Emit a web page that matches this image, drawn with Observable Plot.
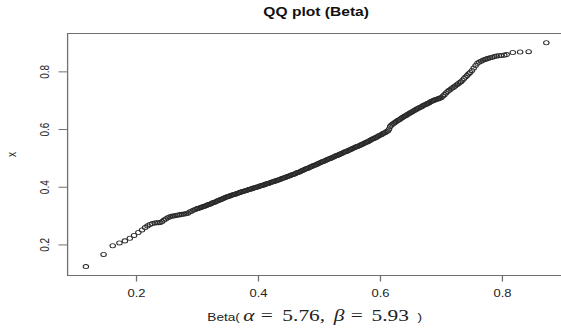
<!DOCTYPE html>
<html><head><meta charset="utf-8">
<script src="https://cdn.jsdelivr.net/npm/d3@7"></script>
<script src="https://cdn.jsdelivr.net/npm/@observablehq/plot@0.6"></script>
<style>html,body{margin:0;padding:0;background:#fff;overflow:hidden;width:561px;height:329px}</style>
</head><body><div id="chart"></div>
<script>
// Theoretical Beta(5.76, 5.93) quantiles (horizontal axis)
const theoretical = [
 0.117,0.146,0.161,0.172,0.181,0.189,0.196,0.203,0.209,0.214,
 0.218,0.222,0.226,0.230,0.233,0.236,0.239,0.242,0.245,0.248,
 0.251,0.254,0.257,0.260,0.263,0.266,0.269,0.272,0.275,0.278,
 0.281,0.284,0.287,0.290,0.293,0.296,0.299,
 0.300,0.302,0.304,0.306,0.308,0.310,0.312,0.314,0.316,0.318,
 0.320,0.322,0.324,0.326,0.328,0.330,0.332,0.334,0.336,0.338,
 0.340,0.342,0.344,0.346,0.348,0.350,0.352,0.354,0.356,0.358,
 0.360,0.362,0.364,0.366,0.368,0.370,0.372,0.374,0.376,0.378,
 0.380,0.382,0.384,0.386,0.388,0.390,0.392,0.394,0.396,0.398,
 0.400,0.402,0.404,0.406,0.408,0.410,0.412,0.414,0.416,0.418,
 0.420,0.422,0.424,0.426,0.428,0.430,0.432,0.434,0.436,0.438,
 0.440,0.442,0.444,0.446,0.448,0.450,0.452,0.454,0.456,0.458,
 0.460,0.462,0.464,0.466,0.468,0.470,0.472,0.474,0.476,0.478,
 0.480,0.482,0.484,0.486,0.488,0.490,0.492,0.494,0.496,0.498,
 0.500,0.502,0.504,0.506,0.508,0.510,0.512,0.514,0.516,0.518,
 0.520,0.522,0.524,0.526,0.528,0.530,0.532,0.534,0.536,0.538,
 0.540,0.542,0.544,0.546,0.548,0.550,0.552,0.554,0.556,0.558,
 0.560,0.562,0.564,0.566,0.568,0.570,0.572,0.574,0.576,0.578,
 0.580,0.582,0.584,0.586,0.588,0.590,0.592,0.594,0.596,0.598,
 0.600,0.602,0.604,0.606,0.608,0.610,0.612,0.614,0.616,0.618,
 0.620,0.622,0.624,0.626,0.628,0.630,0.632,0.634,0.636,0.638,
 0.640,0.642,0.644,0.646,0.648,0.650,0.652,0.654,0.656,0.658,
 0.660,0.662,0.664,0.666,0.668,0.670,0.672,0.674,0.676,0.678,
 0.680,0.682,0.684,0.686,0.688,0.690,0.692,0.694,0.696,0.698,
 0.700,
 0.7025,0.705,0.7075,0.710,0.7125,0.715,0.7175,0.720,0.7225,0.725,
 0.7275,0.730,0.732,0.7345,0.737,0.7395,0.742,0.7445,0.747,0.750,
 0.753,0.756,0.759,0.762,0.765,0.768,0.771,0.774,0.777,0.780,
 0.7835,0.787,0.7905,0.794,0.798,0.803,0.807,0.817,0.829,0.843,
 0.872
];
// Sample values x (vertical axis)
const sample = [
 0.125,0.167,0.197,0.207,0.214,0.223,0.233,0.243,0.252,0.260,
 0.266,0.271,0.274,0.276,0.277,0.277,0.278,0.281,0.286,0.290,
 0.294,0.297,0.299,0.300,0.301,0.303,0.304,0.305,0.306,0.307,
 0.308,0.310,0.314,0.317,0.320,0.323,0.325,
 0.326,0.327,0.329,0.330,0.332,0.333,0.335,0.336,0.338,0.340,
 0.341,0.343,0.345,0.347,0.348,0.350,0.352,0.354,0.356,0.357,
 0.359,0.361,0.363,0.365,0.366,0.368,0.369,0.371,0.372,0.374,
 0.375,0.376,0.378,0.379,0.381,0.382,0.384,0.385,0.386,0.388,
 0.389,0.390,0.392,0.393,0.394,0.396,0.397,0.398,0.400,0.401,
 0.402,0.404,0.405,0.406,0.408,0.409,0.411,0.412,0.413,0.415,
 0.416,0.418,0.419,0.421,0.422,0.423,0.425,0.426,0.428,0.430,
 0.431,0.433,0.434,0.436,0.437,0.439,0.441,0.442,0.444,0.445,
 0.447,0.449,0.451,0.452,0.454,0.456,0.458,0.460,0.462,0.464,
 0.465,0.467,0.469,0.471,0.473,0.475,0.476,0.478,0.480,0.482,
 0.484,0.486,0.488,0.489,0.491,0.493,0.495,0.497,0.499,0.500,
 0.502,0.504,0.506,0.508,0.510,0.511,0.513,0.515,0.517,0.519,
 0.521,0.523,0.524,0.526,0.528,0.530,0.532,0.534,0.536,0.538,
 0.540,0.541,0.543,0.545,0.547,0.549,0.551,0.553,0.555,0.557,
 0.559,0.561,0.564,0.566,0.568,0.570,0.572,0.574,0.577,0.579,
 0.581,0.583,0.586,0.588,0.590,0.593,0.595,0.601,0.611,0.616,
 0.619,0.622,0.625,0.628,0.631,0.633,0.636,0.639,0.642,0.644,
 0.647,0.649,0.652,0.654,0.657,0.659,0.662,0.664,0.667,0.669,
 0.672,0.674,0.676,0.678,0.680,0.683,0.685,0.687,0.689,0.691,
 0.693,0.696,0.698,0.700,0.702,0.703,0.705,0.706,0.708,0.709,
 0.711,
 0.716,0.721,0.727,0.732,0.736,0.740,0.744,0.747,0.751,0.755,
 0.759,0.763,0.766,0.771,0.777,0.782,0.787,0.793,0.798,0.805,
 0.813,0.822,0.830,0.834,0.837,0.840,0.843,0.845,0.847,0.849,
 0.851,0.853,0.855,0.856,0.857,0.858,0.860,0.867,0.869,0.870,
 0.901
];
const xTicks = [0.2, 0.4, 0.6, 0.8];
const yTicks = [0.2, 0.4, 0.6, 0.8];
const titleText = "QQ plot (Beta)";
const yLabelText = "x";
const xLabelParts = ["Beta(", "α", "=", "5.76,", "β", "=", "5.93", ")"];

// The reference image is horizontally stretched; draw narrow then stretch.
const S = 1.3;
const W = 561 / S;
const n = Math.min(theoretical.length, sample.length);
const pts = d3.range(n).map(i => ({q: theoretical[i], s: sample[i]}));

const sans = "'Liberation Sans', Arial, Helvetica, sans-serif";
const serif = "'Liberation Serif', 'Times New Roman', serif";
const ink = "#222";
const lineCol = "#707070";

// layout for the pieces of the x label (offsets from frame centre, font, style)
const partLayout = [
  {dx: -83.7, font: sans, size: 10.5, style: "normal"},
  {dx: -56.0, font: serif, size: 16.5, style: "italic"},
  {dx: -42.6, font: serif, size: 16.5, style: "normal"},
  {dx: -26.0, font: serif, size: 16.5, style: "normal"},
  {dx: 13.6, font: serif, size: 16.5, style: "italic"},
  {dx: 26.6, font: serif, size: 16.5, style: "normal"},
  {dx: 42.6, font: serif, size: 16.5, style: "normal"},
  {dx: 78.0, font: sans, size: 10.5, style: "normal"}
];
const labelMarks = xLabelParts.map((t, i) => Plot.text([t], {
  text: d => d, frameAnchor: "bottom", dx: partLayout[i].dx, dy: 45,
  textAnchor: "start", lineAnchor: "bottom", fontFamily: partLayout[i].font,
  fontSize: partLayout[i].size, fontStyle: partLayout[i].style, fill: ink
}));

const chart = Plot.plot({
  width: W, height: 329,
  marginLeft: 51.5, marginRight: -2.3, marginTop: 33, marginBottom: 54,
  x: {domain: [0.087, 0.902]},
  y: {domain: [0.094, 0.933]},
  style: {fontFamily: sans, fontSize: "10px", color: ink, background: "#fff"},
  marks: [
    Plot.frame({stroke: lineCol}),
    Plot.axisX(xTicks, {tickSize: 6.5, tickPadding: 7.4, stroke: lineCol, label: null,
      fontSize: 10, fill: ink, tickFormat: d => d.toFixed(1)}),
    Plot.axisY(yTicks, {tickSize: 6.5, stroke: lineCol, label: null, tickFormat: () => ""}),
    Plot.text(yTicks, {y: d => d, text: d => d.toFixed(1), frameAnchor: "left", dx: -14.3,
      rotate: -90, textAnchor: "middle", lineAnchor: "bottom", fontSize: 10, fill: ink}),
    Plot.text([yLabelText], {text: d => d, frameAnchor: "left", dx: -40, rotate: -90,
      textAnchor: "middle", lineAnchor: "bottom", fontSize: 10, fill: ink}),
    Plot.text([titleText], {text: d => d, frameAnchor: "top", dy: -18, lineAnchor: "bottom",
      fontWeight: "bold", fontSize: 12, fill: "#111"}),
    ...labelMarks,
    Plot.dot(pts, {x: "q", y: "s", r: 2.1, stroke: "#2a2a2a", strokeWidth: 0.85, fill: "none"})
  ]
});
chart.setAttribute("width", 561);
chart.setAttribute("height", 329);
chart.setAttribute("preserveAspectRatio", "none");
chart.style.width = "561px";
chart.style.height = "329px";
chart.style.maxWidth = "none";
document.getElementById("chart").appendChild(chart);
</script>
</body></html>
